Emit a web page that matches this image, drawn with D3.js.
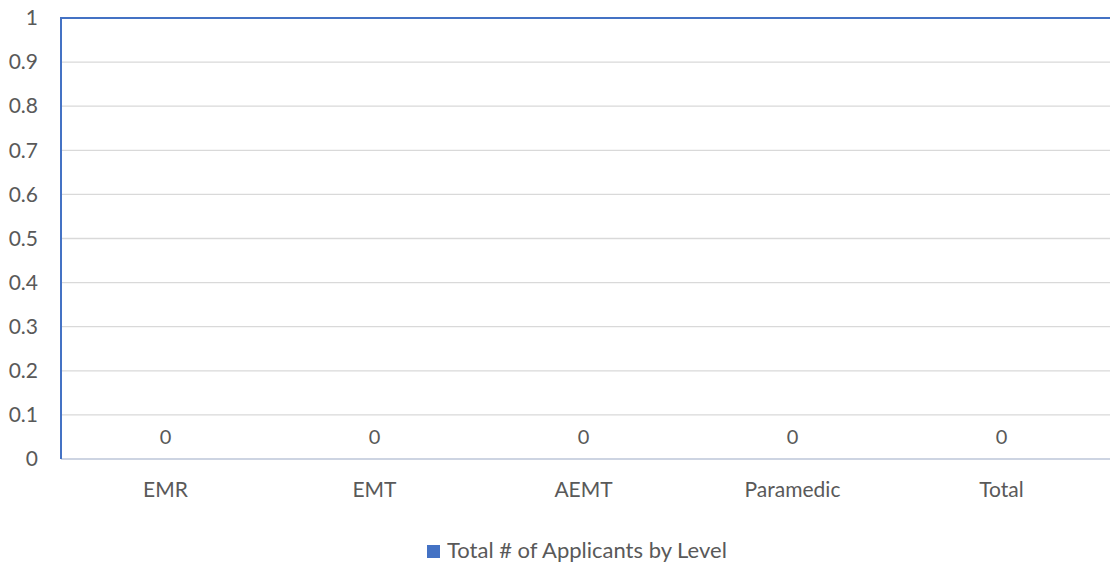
<!DOCTYPE html>
<html>
<head>
<meta charset="utf-8">
<script src="https://cdn.jsdelivr.net/npm/d3@7"></script>
<style>
  html, body { margin: 0; padding: 0; background: #fff; }
  svg text { font-family: "Lato", "Open Sans", sans-serif; fill: #595959; }
</style>
</head>
<body>
<svg id="chart" width="1110" height="564"></svg>
<script>
  // chart data
  var categories = ["EMR", "EMT", "AEMT", "Paramedic", "Total"];
  var applicants = [0, 0, 0, 0, 0];
  var yTicks = [0, 0.1, 0.2, 0.3, 0.4, 0.5, 0.6, 0.7, 0.8, 0.9, 1];
  var seriesName = "Total # of Applicants by Level";

  var svg = d3.select("#chart");

  var plotLeft = 61, plotRight = 1110, plotTop = 18, plotBottom = 459;

  var x = d3.scaleBand()
      .domain(categories)
      .range([plotLeft, 1106])
      .paddingInner(0.4)
      .paddingOuter(0.2);

  var y = d3.scaleLinear()
      .domain([0, 1])
      .range([plotBottom, plotTop]);

  // gridlines
  svg.append("g")
      .selectAll("line")
      .data(yTicks.filter(function(d) { return d > 0 && d < 1; }))
      .enter().append("line")
        .attr("x1", plotLeft)
        .attr("x2", plotRight)
        .attr("y1", function(d) { return y(d); })
        .attr("y2", function(d) { return y(d); })
        .attr("stroke", "#d9d9d9")
        .attr("stroke-width", 1.3);

  // y axis labels
  var yAxis = d3.axisLeft(y)
      .tickValues(yTicks)
      .tickSize(0)
      .tickPadding(23)
      .tickFormat(function(d) { return String(+d.toFixed(1)); });

  svg.append("g")
      .attr("transform", "translate(" + plotLeft + ",0)")
      .call(yAxis)
      .call(function(g) { g.select(".domain").remove(); })
      .selectAll("text")
        .style("font-size", "21px")
        .style("font-family", "Lato, sans-serif")
        .attr("fill", "#595959");

  // baseline
  svg.append("line")
      .attr("x1", plotLeft)
      .attr("x2", plotRight)
      .attr("y1", y(0))
      .attr("y2", y(0))
      .attr("stroke", "#cdd4e2")
      .attr("stroke-width", 2);

  // blue frame (top and left)
  svg.append("line")
      .attr("x1", plotLeft)
      .attr("x2", plotRight)
      .attr("y1", y(1))
      .attr("y2", y(1))
      .attr("stroke", "#4472c4")
      .attr("stroke-width", 2);

  svg.append("line")
      .attr("x1", plotLeft)
      .attr("x2", plotLeft)
      .attr("y1", y(1) - 1)
      .attr("y2", y(0))
      .attr("stroke", "#4472c4")
      .attr("stroke-width", 2);

  // bars (zero height)
  svg.append("g")
      .selectAll("rect")
      .data(applicants)
      .enter().append("rect")
        .attr("x", function(d, i) { return x(categories[i]); })
        .attr("y", function(d) { return y(d); })
        .attr("width", x.bandwidth())
        .attr("height", function(d) { return y(0) - y(d); })
        .attr("fill", "#4472c4");

  // value labels
  svg.append("g")
      .selectAll("text")
      .data(applicants)
      .enter().append("text")
        .attr("x", function(d, i) { return x(categories[i]) + x.bandwidth() / 2; })
        .attr("y", function(d) { return y(d) - 15; })
        .attr("text-anchor", "middle")
        .style("font-size", "20px")
        .text(function(d) { return d; });

  // x axis labels
  var xAxis = d3.axisBottom(x).tickSize(0).tickPadding(23);
  svg.append("g")
      .attr("transform", "translate(0," + plotBottom + ")")
      .call(xAxis)
      .call(function(g) { g.select(".domain").remove(); })
      .selectAll("text")
        .style("font-size", "21px")
        .style("font-family", "Lato, sans-serif")
        .attr("fill", "#595959");

  // legend
  var legend = svg.append("g").attr("transform", "translate(427,545)");
  legend.append("rect")
      .attr("width", 13)
      .attr("height", 13)
      .attr("fill", "#4472c4");
  legend.append("text")
      .attr("x", 20)
      .attr("y", 13)
      .style("font-size", "22px")
      .text(seriesName);
</script>
</body>
</html>
